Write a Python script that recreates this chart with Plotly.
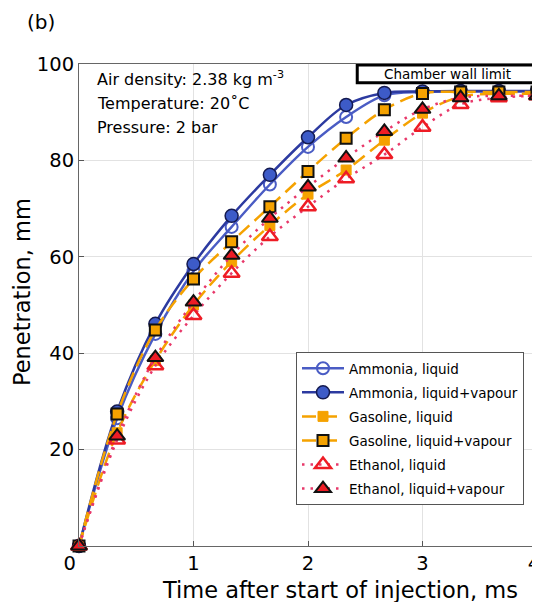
import plotly.graph_objects as go

# ---- data ----
time_ms = [0, 0.333, 0.667, 1.0, 1.333, 1.667, 2.0, 2.333, 2.667, 3.0, 3.333, 3.667, 4.0]

ammonia_liquid = [0, 26.5, 44.0, 57.0, 66.2, 75.0, 82.8, 89.0, 93.5, 94.2, 94.3, 94.3, 94.3]
ammonia_liqvap = [0, 27.9, 46.1, 58.5, 68.5, 77.0, 84.8, 91.5, 94.0, 94.3, 94.4, 94.4, 94.4]
gasoline_liquid = [0, 23.5, 38.5, 50.0, 59.0, 66.5, 73.0, 78.0, 84.2, 89.8, 93.2, 93.8, 93.8]
gasoline_liqvap = [0, 27.4, 44.8, 55.4, 63.1, 70.4, 77.7, 84.6, 90.5, 93.9, 94.2, 94.2, 94.2]
ethanol_liquid = [0, 22.0, 37.4, 47.8, 56.6, 64.2, 70.4, 76.2, 81.2, 86.9, 91.6, 93.0, 93.4]
ethanol_liqvap = [0, 22.8, 39.1, 50.6, 60.3, 68.0, 74.5, 80.5, 86.0, 90.6, 93.0, 93.4, 93.4]

series_names = [
    "Ammonia, liquid",
    "Ammonia, liquid+vapour",
    "Gasoline, liquid",
    "Gasoline, liquid+vapour",
    "Ethanol, liquid",
    "Ethanol, liquid+vapour",
]

x_ticks = [0, 1, 2, 3, 4]
x_tick_labels = ["0\u00a0\u00a0\u00a0", "1", "2", "3", "4\u00a0"]
y_ticks = [20, 40, 60, 80, 100]

FONT = "DejaVu Sans"
BLUE_L = "#4a5cc4"
BLUE_D = "#2c3aa0"
ORANGE = "#f5a200"
RED = "#ee1c25"
PINK = "#e8386a"

# the page adds an 8px body margin; work in screen pixels and subtract it
OFF = 8
W, H = 532, 594
L = 79 - OFF          # plot left at screen x=79
T = 64 - OFF          # plot top at screen y=64
R = W - (537 - OFF)   # plot right at screen x=537
B = H - (546 - OFF)   # plot bottom at screen y=546
PW, PH = W - L - R, H - T - B


def px_x(px):
    return (px - OFF - L) / PW


def px_y(py):
    return (H - B - (py - OFF)) / PH


fig = go.Figure()

styles = [
    dict(y=ammonia_liquid, line=dict(color=BLUE_L, width=2.5),
         marker=dict(symbol="circle-open", size=12, color=BLUE_L, line=dict(width=2, color=BLUE_L))),
    dict(y=ammonia_liqvap, line=dict(color=BLUE_D, width=2.5),
         marker=dict(symbol="circle", size=13, color="#3d5bc8", line=dict(width=1.5, color="#141a50"))),
    dict(y=gasoline_liquid, line=dict(color=ORANGE, width=2.5, dash="14px,7px"),
         marker=dict(symbol="square", size=10, color=ORANGE, line=dict(width=1, color=ORANGE))),
    dict(y=gasoline_liqvap, line=dict(color=ORANGE, width=2.5, dash="14px,7px"),
         marker=dict(symbol="square", size=11, color=ORANGE, line=dict(width=2, color="#111111"))),
    dict(y=ethanol_liquid, line=dict(color=PINK, width=2.5, dash="2.5px,6px"),
         marker=dict(symbol="triangle-up-open", size=14, color=RED, line=dict(width=2.5, color=RED))),
    dict(y=ethanol_liqvap, line=dict(color=PINK, width=2.5, dash="2.5px,6px"),
         marker=dict(symbol="triangle-up", size=14, color=RED, line=dict(width=2, color="#111111"))),
]

for name, st in zip(series_names, styles):
    fig.add_trace(go.Scatter(
        x=time_ms, y=st["y"], name=name, mode="lines+markers",
        line=dict(shape="spline", **st["line"]), marker=st["marker"],
        cliponaxis=False, legendgroup=name,
    ))

fig.update_layout(
    width=W, height=H,
    margin=dict(l=L, r=R, t=T, b=B, autoexpand=False),
    paper_bgcolor="white", plot_bgcolor="white",
    font=dict(family=FONT, size=18, color="black"),
    showlegend=True,
    legend=dict(
        x=px_x(296), y=px_y(352), xanchor="left", yanchor="top",
        bgcolor="white", bordercolor="#555555", borderwidth=1,
        font=dict(family=FONT, size=13.5, color="black"),
        tracegroupgap=3.5, itemwidth=42,
    ),
)

fig.update_xaxes(
    range=[0, 4], tickvals=x_ticks, ticktext=x_tick_labels,
    showgrid=True, gridcolor="#e2e2e2", gridwidth=1,
    showline=True, linecolor="#666666", linewidth=1, mirror=True,
    ticks="inside", ticklen=5, tickcolor="#555555", zeroline=False,
    tickfont=dict(size=19.5), automargin=False, ticklabeloverflow="allow",
)
fig.update_yaxes(
    range=[0, 100], tickvals=y_ticks, ticktext=[str(v) for v in y_ticks],
    showgrid=True, gridcolor="#e2e2e2", gridwidth=1,
    showline=True, linecolor="#666666", linewidth=1, mirror=True,
    ticks="inside", ticklen=5, tickcolor="#555555", zeroline=False,
    tickfont=dict(size=19.5), automargin=False, ticklabeloverflow="allow",
)

# axis titles
fig.add_annotation(xref="paper", yref="paper", x=px_x(340), y=px_y(590),
                   xanchor="center", yanchor="middle", showarrow=False,
                   text="Time after start of injection, ms",
                   font=dict(family=FONT, size=22.5, color="black"))
fig.add_annotation(xref="paper", yref="paper", x=px_x(22), y=px_y(292),
                   xanchor="center", yanchor="middle", showarrow=False, textangle=-90,
                   text="Penetration, mm",
                   font=dict(family=FONT, size=22.5, color="black"))

# chamber wall limit box
fig.add_shape(type="rect", xref="x", yref="y", x0=2.43, x1=4.0, y0=96.1, y1=99.8,
              line=dict(color="black", width=3), fillcolor="white", layer="above")
fig.add_annotation(xref="x", yref="y", x=3.215, y=97.95, text="Chamber wall limit",
                   showarrow=False, font=dict(family=FONT, size=13.5, color="black"))

# condition labels
for txt, ypx in [("Air density: 2.38 kg m<sup>-3</sup>", 78),
                 ("Temperature: 20˚C", 103),
                 ("Pressure: 2 bar", 128)]:
    fig.add_annotation(xref="paper", yref="paper", x=px_x(95), y=px_y(ypx),
                       xanchor="left", yanchor="middle", text=txt, showarrow=False,
                       font=dict(family=FONT, size=16, color="black"))

fig.add_annotation(xref="paper", yref="paper", x=px_x(25), y=px_y(22),
                   xanchor="left", yanchor="middle", text="(b)", showarrow=False,
                   font=dict(family=FONT, size=20, color="black"))

fig.write_html("out.html")
